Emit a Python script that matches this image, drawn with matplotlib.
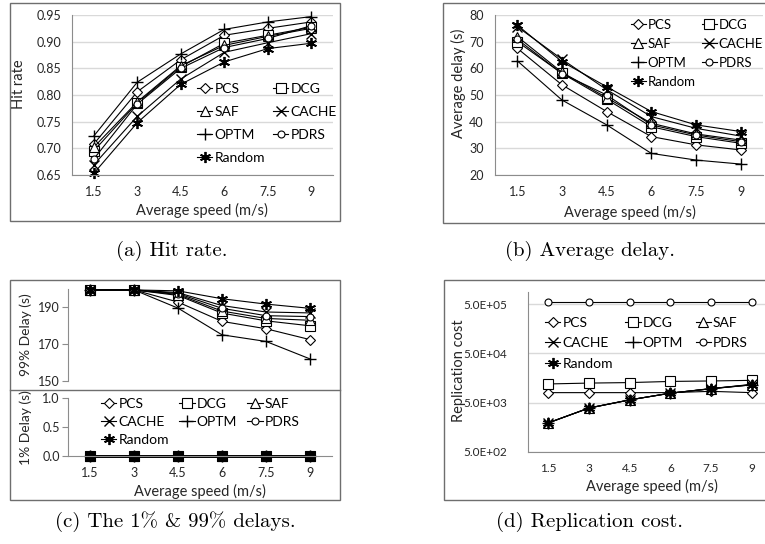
"""
Four-panel comparison figure (hit rate, delays, replication cost)
"""

import matplotlib
matplotlib.use('Agg')
import matplotlib.pyplot as plt
from matplotlib.patches import Rectangle
from matplotlib.lines import Line2D

W, H = 765, 544

speeds = ['1.5', '3', '4.5', '6', '7.5', '9']
methods = ['PCS', 'DCG', 'SAF', 'CACHE', 'OPTM', 'PDRS', 'Random']

# rows follow `methods`
hit_rate = [
    [0.708, 0.806, 0.866, 0.912, 0.925, 0.937],
    [0.695, 0.785, 0.853, 0.897, 0.912, 0.927],
    [0.702, 0.787, 0.855, 0.893, 0.910, 0.925],
    [0.669, 0.760, 0.830, 0.880, 0.898, 0.915],
    [0.723, 0.824, 0.877, 0.923, 0.937, 0.947],
    [0.680, 0.783, 0.850, 0.889, 0.906, 0.930],
    [0.653, 0.748, 0.820, 0.862, 0.887, 0.897],
]

avg_delay = [
    [67.5, 53.8, 43.8, 34.4, 31.3, 29.4],
    [70.0, 58.1, 48.4, 38.1, 34.4, 31.9],
    [71.9, 58.5, 49.0, 39.4, 35.4, 33.1],
    [75.6, 63.4, 52.0, 41.9, 37.5, 34.6],
    [62.8, 48.1, 38.8, 28.1, 25.6, 24.1],
    [70.9, 58.0, 50.0, 38.8, 35.0, 32.5],
    [76.2, 62.5, 53.1, 43.8, 38.8, 36.3],
]

delay_99 = [
    [199.5, 199.5, 192.9, 182.4, 178.4, 172.5],
    [199.5, 199.5, 196.5, 186.9, 182.7, 180.0],
    [199.5, 199.5, 197.0, 188.0, 184.0, 183.0],
    [199.5, 199.5, 198.0, 191.0, 187.5, 187.0],
    [199.5, 199.5, 189.6, 175.1, 171.5, 162.0],
    [199.5, 199.5, 197.5, 189.5, 185.5, 185.0],
    [199.5, 199.5, 199.0, 194.7, 191.8, 189.5],
]

delay_1 = [
    [0, 0, 0, 0, 0, 0],
    [0, 0, 0, 0, 0, 0],
    [0, 0, 0, 0, 0, 0],
    [0, 0, 0, 0, 0, 0],
    [0, 0, 0, 0, 0, 0],
    [0, 0, 0, 0, 0, 0],
    [0, 0, 0, 0, 0, 0],
]

rep_cost = [
    [8000, 8000, 8000, 8000, 8500, 8000],
    [12000, 12500, 12800, 13500, 13800, 14200],
    [1950, 3900, 5700, 7800, 9700, 11600],
    [1950, 3900, 5700, 7800, 9600, 11800],
    [1950, 3900, 5700, 7800, 9600, 11500],
    [560000, 560000, 560000, 560000, 560000, 560000],
    [1950, 3900, 5700, 7800, 9600, 11500],
]

# 标记样式
STYLES = {
    'PCS':    dict(marker='D', ms=5, mfc='white', mew=0.8),
    'DCG':    dict(marker='s', ms=6.5, mfc='white', mew=0.8),
    'SAF':    dict(marker='^', ms=6.5, mfc='white', mew=0.8),
    'CACHE':  dict(marker='x', ms=6.5, mew=1.0),
    'OPTM':   dict(marker='+', ms=8, mew=1.0),
    'PDRS':   dict(marker='o', ms=5, mfc='white', mew=0.8),
    'Random': dict(marker=(6, 2, 0), ms=8, mew=1.3),
}

plt.rcParams['font.family'] = ['Lato', 'DejaVu Sans']
TXT = '#262626'
GRID = '#d9d9d9'
AXC = '#8c8c8c'

fig = plt.figure(figsize=(W / 100, H / 100), dpi=100)


def px_axes(l, t, r, b):
    return fig.add_axes([l / W, 1 - b / H, (r - l) / W, (b - t) / H])


def border(l, t, r, b):
    fig.add_artist(Rectangle((l / W, 1 - b / H), (r - l) / W, (b - t) / H,
                             transform=fig.transFigure, fill=False,
                             ec='#6e6e6e', lw=1.0))


def label_px(x, y, text, rot=0, size=10.5):
    fig.text(x / W, 1 - y / H, text, rotation=rot, ha='center', va='center',
             fontsize=size, color=TXT)


def style_axes(ax, grid=True, xticks=True, tsize=9):
    for s in ['top', 'right']:
        ax.spines[s].set_visible(False)
    ax.spines['left'].set_color(AXC)
    ax.spines['bottom'].set_color(AXC)
    ax.tick_params(axis='y', colors=AXC, labelcolor=TXT, labelsize=tsize, length=4, width=0.8, pad=2)
    ax.tick_params(axis='x', colors=AXC, labelcolor=TXT, labelsize=tsize, length=0, pad=8)
    if grid:
        ax.yaxis.grid(True, color=GRID, lw=1.0)
        ax.set_axisbelow(True)
    ax.set_xlim(-0.5, 5.5)
    ax.set_xticks(range(len(speeds)))
    if xticks:
        ax.set_xticklabels(speeds)
    else:
        ax.tick_params(axis='x', labelbottom=False)


def draw_series(ax, data, **extra):
    handles = []
    for name, vals in zip(methods, data):
        kw = dict(color='black', lw=0.8, mec='black', clip_on=False)
        kw.update(STYLES[name])
        kw.update(extra)
        h, = ax.plot(range(len(speeds)), vals, **kw)
        handles.append(h)
    return handles


def add_legend(ax, ncol, x, y, spacing, rowgap, size=10):
    # 图例按行排列（与 Excel 一致）
    handles = [Line2D([], [], color='black', lw=0.8, mec='black', **STYLES[m]) for m in methods]
    n = len(handles)
    rows = (n + ncol - 1) // ncol
    order = []
    for c in range(ncol):
        for r in range(rows):
            i = r * ncol + c
            if i < n:
                order.append(i)
    ax.legend([handles[i] for i in order], [methods[i] for i in order],
              ncol=ncol, loc='upper left', bbox_to_anchor=(x / W, 1 - y / H),
              bbox_transform=fig.transFigure, frameon=False, fontsize=size,
              handlelength=1.1, handletextpad=0.15, columnspacing=spacing,
              labelspacing=rowgap, borderpad=0, borderaxespad=0)


# (a) Hit rate
border(10, 3, 340, 221)
ax = px_axes(72, 15, 333, 175)
style_axes(ax)
draw_series(ax, hit_rate)
ax.set_ylim(0.65, 0.95)
ax.set_yticks([0.65, 0.70, 0.75, 0.80, 0.85, 0.90, 0.95])
ax.set_yticklabels(['%.2f' % v for v in ax.get_yticks()])
ax.tick_params(axis='y', length=0, pad=8)
label_px(202, 210, 'Average speed (m/s)')
label_px(19, 84, 'Hit rate', rot=90)
add_legend(ax, 2, 197, 83, 0.6, 0.8)

# (b) Average delay
border(443, 3, 766, 223)
ax = px_axes(495, 15, 763, 175)
style_axes(ax)
draw_series(ax, avg_delay)
ax.set_ylim(20, 80)
ax.set_yticks(range(20, 81, 10))
ax.tick_params(axis='y', length=0, pad=8)
label_px(630, 212, 'Average speed (m/s)')
label_px(458, 83, 'Average delay (s)', rot=90)
add_legend(ax, 2, 631, 19, 0.5, 0.52, size=9.5)

# (c) 1% & 99% delays
border(10, 280, 340, 500)
fig.add_artist(Line2D([10 / W, 340 / W], [1 - 390 / H, 1 - 390 / H],
                      transform=fig.transFigure, color='#6e6e6e', lw=1.0))
ax_up = px_axes(68, 289, 332, 381)
style_axes(ax_up, grid=False, xticks=False)
ax_up.spines['bottom'].set_visible(False)
draw_series(ax_up, delay_99)
ax_up.set_ylim(150, 200)
ax_up.set_yticks([150, 170, 190])
label_px(26, 335, '99% Delay (s)', rot=90, size=10)

ax_lo = px_axes(68, 398, 332, 456)
style_axes(ax_lo, grid=False)
draw_series(ax_lo, delay_1, mfc='black', lw=2.0)
ax_lo.set_ylim(0, 1)
ax_lo.set_yticks([0, 0.5, 1.0])
ax_lo.set_yticklabels(['0.0', '0.5', '1.0'])
label_px(200, 491, 'Average speed (m/s)')
label_px(26, 428, '1% Delay (s)', rot=90, size=10)
add_legend(ax_lo, 3, 101, 398, 0.75, 0.42)

# (d) Replication cost
border(444, 280, 766, 500)
ax = px_axes(528, 292, 772, 452)
style_axes(ax, tsize=8.5)
draw_series(ax, rep_cost)
ax.set_yscale('log')
ax.set_ylim(500, 8.8e5)
ax.set_yticks([5e2, 5e3, 5e4, 5e5])
ax.set_yticks([], minor=True)
ax.set_yticklabels(['5.0E+02', '5.0E+03', '5.0E+04', '5.0E+05'])
ax.tick_params(axis='y', length=0, pad=15)
label_px(652, 486, 'Average speed (m/s)')
label_px(459, 371, 'Replication cost', rot=90)
add_legend(ax, 3, 545, 317, 0.9, 0.6)

# captions
cap = dict(ha='center', va='center', fontsize=15, family=['cmr10', 'DejaVu Serif'])
fig.text(172 / W, 1 - 251 / H, '(a) Hit rate.', **cap)
fig.text(590 / W, 1 - 251 / H, '(b) Average delay.', **cap)
fig.text(175 / W, 1 - 522 / H, '(c) The 1% & 99% delays.', **cap)
fig.text(590 / W, 1 - 522 / H, '(d) Replication cost.', **cap)

fig.savefig('out.png', dpi=100)
